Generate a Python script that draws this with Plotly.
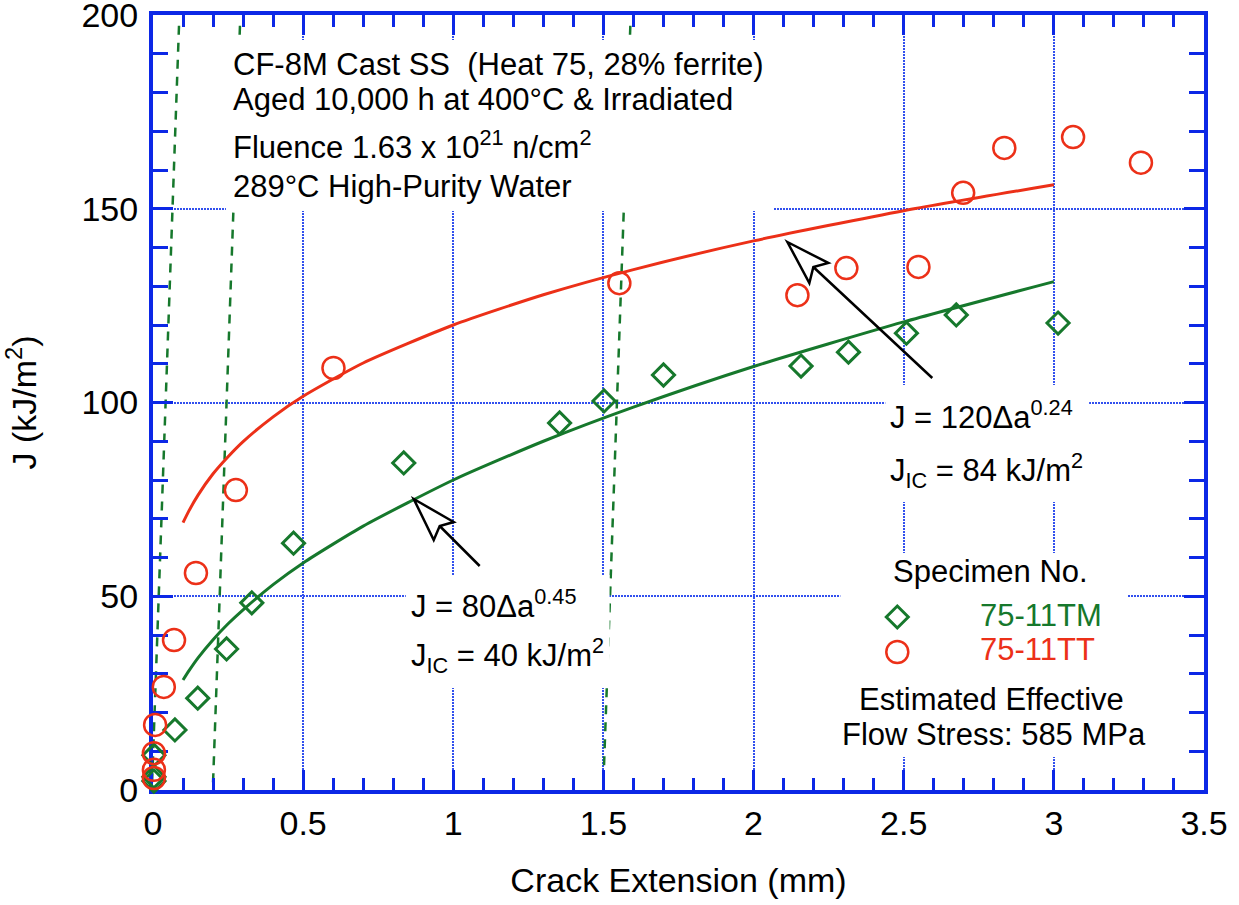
import plotly.graph_objects as go

# ---------------- data ----------------
tm_da = [0.003, 0.003, 0.003, 0.073, 0.149, 0.245, 0.329, 0.468, 0.835, 1.354,
         1.502, 1.700, 2.158, 2.316, 2.509, 2.675, 3.014]
tm_J = [2.3, 3.4, 9.0, 15.5, 23.7, 36.4, 48.3, 63.7, 84.4, 94.7,
        100.4, 107.1, 109.4, 113.0, 117.9, 122.6, 120.5]

tt_da = [0.003, 0.003, 0.003, 0.007, 0.036, 0.070, 0.143, 0.276, 0.601, 1.553,
         2.146, 2.309, 2.549, 2.698, 2.835, 3.064, 3.290]
tt_J = [3.1, 5.2, 9.5, 16.8, 26.6, 38.7, 56.0, 77.4, 108.9, 130.8,
        127.7, 134.7, 135.0, 154.1, 165.7, 168.5, 161.9]

fit_da = [0.10, 0.12, 0.15, 0.20, 0.25, 0.30, 0.40, 0.50, 0.70, 1.00, 1.30, 1.60, 2.00, 2.50, 3.00]
fit_tm = [28.4, 30.8, 34.1, 38.8, 42.9, 46.5, 53.0, 58.6, 68.1, 80.0, 90.0, 98.8, 109.3, 120.8, 131.2]
fit_tt = [69.0, 72.1, 76.1, 81.6, 86.0, 89.9, 96.3, 101.6, 110.2, 120.0, 127.8, 134.3, 141.7, 149.5, 156.2]

# exclusion / blunting construction lines: (da_start, J_start, da_end, J_end)
excl_da0 = [-0.003, 0.200, 1.500]
excl_da1 = [0.087, 0.290, 1.590]
excl_J0 = [2.0, 2.0, 2.0]
excl_J1 = [198.0, 198.0, 198.0]

series_names = ["75-11TM", "75-11TT"]

# ---------------- styling ----------------
BLUE = "rgb(12,40,230)"
GRID = "rgb(50,80,238)"
RED = "rgb(236,48,24)"
GREEN = "rgb(22,120,44)"
FONT = "Liberation Sans, Arial, Helvetica, sans-serif"

# pixel helpers for placing text / boxes (plot area 152..1204 x, 15..790 y)
def dx(px):
    return (px - 152) / (1052 / 3.5)

def dy(py):
    return (790 - py) / (775 / 200)

fig = go.Figure()

fig.add_trace(go.Scatter(x=fit_da, y=fit_tt, mode="lines",
                         line=dict(color=RED, width=3, shape="spline", smoothing=0.6),
                         hoverinfo="skip"))
fig.add_trace(go.Scatter(x=fit_da, y=fit_tm, mode="lines",
                         line=dict(color=GREEN, width=3, shape="spline", smoothing=0.6),
                         hoverinfo="skip"))
fig.add_trace(go.Scatter(x=tm_da, y=tm_J, mode="markers", name=series_names[0],
                         cliponaxis=False,
                         marker=dict(symbol="diamond-open", size=17, color=GREEN,
                                     line=dict(width=3, color=GREEN))))
fig.add_trace(go.Scatter(x=tt_da, y=tt_J, mode="markers", name=series_names[1],
                         cliponaxis=False,
                         marker=dict(symbol="circle-open", size=22, color=RED,
                                     line=dict(width=2.5, color=RED))))

shapes = []
# dashed construction lines (under the white text boxes)
for a0, a1, j0, j1 in zip(excl_da0, excl_da1, excl_J0, excl_J1):
    shapes.append(dict(type="line", xref="x", yref="y", x0=a0, y0=j0, x1=a1, y1=j1,
                       line=dict(color=GREEN, width=2.5, dash="9px,8px"),
                       layer="between"))

# white boxes behind text (hide grid lines like the original)
boxes = [(225, 40, 773, 211), (405, 575, 609, 688), (885, 385, 1089, 502),
         (840, 553, 1127, 680), (840, 680, 1150, 757)]
for x0, y0, x1, y1 in boxes:
    shapes.append(dict(type="rect", xref="x", yref="y", x0=dx(x0), x1=dx(x1),
                       y0=dy(y1), y1=dy(y0), fillcolor="white",
                       line=dict(width=0), layer="between"))

# open arrows
def arrow(tip, bR, notch, bL, tail):
    p = lambda q: f"{dx(q[0]):.4f},{dy(q[1]):.3f}"
    return dict(type="path", xref="x", yref="y",
                path=f"M {p(notch)} L {p(tail)} M {p(tip)} L {p(bR)} L {p(notch)} L {p(bL)} Z",
                fillcolor="white", line=dict(color="black", width=2.5), layer="above")

shapes.append(arrow((413, 499), (453, 522), (439, 526), (433, 540), (479, 566)))
shapes.append(arrow((787, 242), (828, 263), (813, 267), (809, 283), (932, 378)))

# legend symbols
shapes.append(dict(type="path", xref="x", yref="y", xsizemode="pixel", ysizemode="pixel",
                   xanchor=dx(897), yanchor=dy(617),
                   path="M 0,11 L 11,0 L 0,-11 L -11,0 Z",
                   line=dict(color=GREEN, width=3), layer="above"))
shapes.append(dict(type="circle", xref="x", yref="y", xsizemode="pixel", ysizemode="pixel",
                   xanchor=dx(897), yanchor=dy(652), x0=-11, x1=11, y0=-11, y1=11,
                   line=dict(color=RED, width=2.5), layer="above"))

ann = []
def txt(s, px, py, anchor="left", color="black", size=31):
    ann.append(dict(text=s, x=dx(px), y=dy(py), xref="x", yref="y",
                    xanchor=anchor, yanchor="middle", showarrow=False,
                    font=dict(family=FONT, size=size, color=color)))

txt("CF-8M Cast SS \u00a0(Heat 75, 28% ferrite)", 230, 64)
txt("Aged 10,000 h at 400°C &amp; Irradiated", 230, 99)
txt("Fluence 1.63 x 10<sup>21</sup> n/cm<sup>2</sup>", 230, 145)
txt("289°C High-Purity Water", 230, 186)

txt("J = 80\u0394a<sup>0.45</sup>", 408, 604)
txt("J<sub>IC</sub> = 40 kJ/m<sup>2</sup>", 408, 655)
txt("J = 120\u0394a<sup>0.24</sup>", 888, 415)
txt("J<sub>IC</sub> = 84 kJ/m<sup>2</sup>", 888, 470)

txt("Specimen No.", 990, 571, anchor="center")
txt(series_names[0], 978, 615, color=GREEN)
txt(series_names[1], 978, 649, color=RED)
txt("Estimated Effective", 991, 699, anchor="center")
txt("Flow Stress: 585 MPa", 994, 734, anchor="center")

axis_common = dict(showline=True, linecolor=BLUE, linewidth=4, mirror="allticks",
                   ticks="inside", ticklen=20, tickwidth=3, tickcolor=BLUE,
                   showgrid=True, gridcolor=GRID, gridwidth=2, griddash="2px,1px",
                   zeroline=False, layer="below traces", ticklabeloverflow="allow",
                   tickfont=dict(family=FONT, size=34, color="black"))

fig.update_xaxes(range=[0, 3.5], tick0=0, dtick=0.5,
                 minor=dict(dtick=0.1, ticks="inside", ticklen=12, tickwidth=3,
                            tickcolor=BLUE, showgrid=False),
                 title=dict(text="Crack Extension (mm)", standoff=28,
                            font=dict(family=FONT, size=34, color="black")),
                 **axis_common)
fig.update_yaxes(range=[0, 200], tick0=0, dtick=50,
                 minor=dict(dtick=10, ticks="inside", ticklen=15, tickwidth=3,
                            tickcolor=BLUE, showgrid=False),
                 ticklabelstandoff=4,
                 title=dict(text="J (kJ/m<sup>2</sup>)", standoff=46,
                            font=dict(family=FONT, size=34, color="black")),
                 **axis_common)

fig.update_layout(width=1239, height=905,
                  margin=dict(l=153, r=35, t=15, b=115, autoexpand=False),
                  paper_bgcolor="white", plot_bgcolor="white",
                  showlegend=False, shapes=shapes, annotations=ann,
                  font=dict(family=FONT, size=31, color="black"))

fig.write_html("out.html")
